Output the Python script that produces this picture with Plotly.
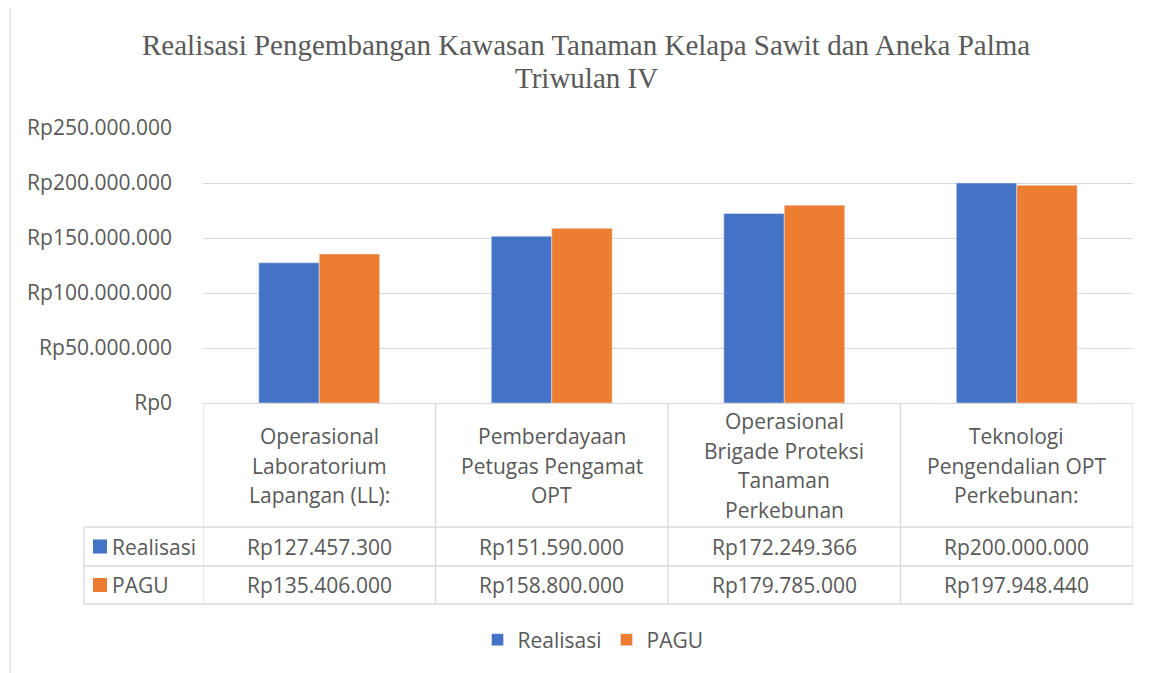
import plotly.graph_objects as go

categories = [
    "Operasional<br>Laboratorium<br>Lapangan (LL):",
    "Pemberdayaan<br>Petugas Pengamat<br>OPT",
    "Operasional<br>Brigade Proteksi<br>Tanaman<br>Perkebunan",
    "Teknologi<br>Pengendalian OPT<br>Perkebunan:",
]
realisasi = [127457300, 151590000, 172249366, 200000000]
pagu = [135406000, 158800000, 179785000, 197948440]
series_names = ["Realisasi", "PAGU"]
tick_values = [0, 50000000, 100000000, 150000000, 200000000, 250000000]
title_lines = ["Realisasi Pengembangan Kawasan Tanaman Kelapa Sawit dan Aneka Palma",
               "Triwulan IV"]

BLUE = "#4472C4"
ORANGE = "#ED7D31"
GREY = "#595959"
LINE = "#D9D9D9"
FONT = "Open Sans"
FS = 21

OFF = 8  # default page body margin
W, H = 1156 - OFF, 673 - OFF


def rp(v):
    return "Rp" + f"{v:,.0f}".replace(",", ".")


x_idx = list(range(len(categories)))

fig = go.Figure()
fig.add_trace(go.Bar(x=x_idx, y=realisasi, name=series_names[0], marker_color=BLUE))
fig.add_trace(go.Bar(x=x_idx, y=pagu, name=series_names[1], marker_color=ORANGE))

plot_h = 275.0
plot_w = 930.0


def py(Y):
    return (403 - Y) / plot_h


def px(X):
    return (X - 203) / plot_w


y_head_bot = py(527)
y_row1_bot = py(566)
y_row2_bot = py(604)
x_left = px(84)

shapes = []
n = len(categories)
for i in range(n + 1):
    shapes.append(dict(type="line", xref="x", yref="paper", x0=i - 0.5, x1=i - 0.5,
                       y0=0, y1=y_row2_bot, line=dict(color=LINE, width=1.3)))
for yy in [y_head_bot, y_row1_bot, y_row2_bot]:
    shapes.append(dict(type="line", xref="paper", yref="paper", x0=x_left, x1=1,
                       y0=yy, y1=yy, line=dict(color=LINE, width=1.3)))
shapes.append(dict(type="line", xref="paper", yref="paper", x0=x_left, x1=x_left,
                   y0=y_head_bot, y1=y_row2_bot, line=dict(color=LINE, width=1.3)))
# chart border (top and left visible)
shapes.append(dict(type="rect", xref="paper", yref="paper",
                   x0=px(10), x1=1.2, y0=py(6), y1=-1.2,
                   line=dict(color=LINE, width=1.3), layer="below"))

annotations = []
# title, two lines
for j, (t, yc) in enumerate(zip(title_lines, [45, 78])):
    annotations.append(dict(x=px(586), y=py(yc), xref="paper", yref="paper",
                            text=t, showarrow=False, xanchor="center", yanchor="middle",
                            font=dict(family="Liberation Serif", size=29, color=GREY)))
for i, cat in enumerate(categories):
    lines = cat.split("<br>")
    k = len(lines)
    for j, ln in enumerate(lines):
        yc = 465.5 + (j - (k - 1) / 2) * 29.7
        annotations.append(dict(x=i, y=py(yc), xref="x", yref="paper",
                                text=ln, showarrow=False, xanchor="center", yanchor="middle",
                                font=dict(family=FONT, size=FS, color=GREY)))
rows = [(realisasi, BLUE, series_names[0], py(546.5)),
        (pagu, ORANGE, series_names[1], py(585))]
for vals, col, name, yc in rows:
    for i, v in enumerate(vals):
        annotations.append(dict(x=i, y=yc, xref="x", yref="paper", text=rp(v),
                                showarrow=False, xanchor="center", yanchor="middle",
                                font=dict(family=FONT, size=FS, color=GREY)))
    annotations.append(dict(x=px(110), y=yc, xref="paper", yref="paper",
                            text=name, showarrow=False, xanchor="left", yanchor="middle",
                            font=dict(family=FONT, size=FS, color=GREY)))
    shapes.append(dict(type="rect", xref="paper", yref="paper",
                       x0=px(93), x1=px(107),
                       y0=yc - 7 / plot_h, y1=yc + 7 / plot_h,
                       fillcolor=col, line=dict(width=0)))

fig.update_layout(
    width=W, height=H,
    margin=dict(l=203 - OFF, r=W - (1133 - OFF), t=128 - OFF, b=H - (403 - OFF)),
    paper_bgcolor="white", plot_bgcolor="white",
    barmode="group", bargap=0.48, bargroupgap=0,
    xaxis=dict(range=[-0.5, n - 0.5], showticklabels=False, showgrid=False,
               zeroline=False, showline=False, fixedrange=True),
    yaxis=dict(range=[0, 250000000], tickvals=tick_values,
               ticktext=[rp(v) for v in tick_values],
               showgrid=True, gridcolor=LINE, gridwidth=1.3,
               zeroline=True, zerolinecolor=LINE, zerolinewidth=1.3,
               showline=False, ticks="", ticklabelstandoff=30,
               tickfont=dict(family=FONT, size=FS, color=GREY)),
    legend=dict(orientation="h", x=px(593), xanchor="center",
                y=py(640), yanchor="middle",
                font=dict(family=FONT, size=FS, color=GREY), itemwidth=30),
    shapes=shapes, annotations=annotations,
)

fig.write_html("out.html")
